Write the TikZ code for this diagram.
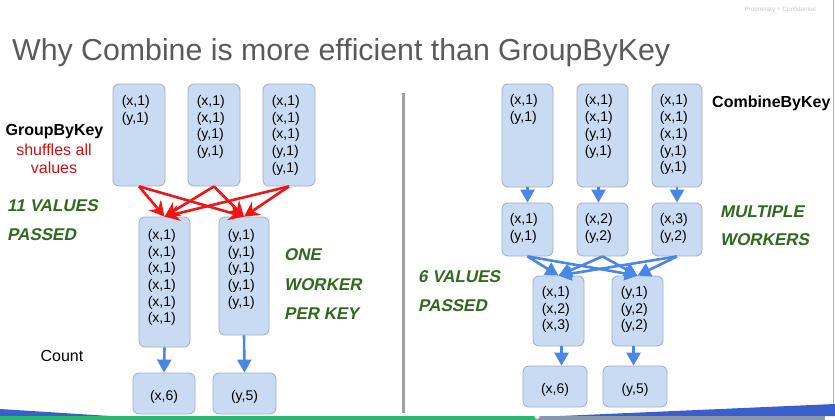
\documentclass[tikz,border=0pt]{standalone}
\usepackage{fontspec}
\setmainfont{Liberation Sans}
\newfontfamily\handfont[FakeSlant=0.2]{Liberation Sans Bold}
\usetikzlibrary{arrows.meta}

\definecolor{boxfill}{HTML}{C9DAF3}
\definecolor{boxline}{HTML}{A3ADBA}
\definecolor{flowblue}{HTML}{4A86E8}
\definecolor{flowred}{HTML}{F01414}
\definecolor{notegreen}{HTML}{2F6A1C}
\definecolor{titlegray}{HTML}{5A5A5A}
\definecolor{rulegray}{HTML}{A0A0A0}
\definecolor{barblue}{HTML}{3A5FCD}
\definecolor{bargreen}{HTML}{2BB673}
\definecolor{bargray}{HTML}{8797AC}

\tikzset{
  cell/.style={draw=boxline, fill=boxfill, line width=0.8pt, rounded corners=6pt, inner sep=0pt},
  vals/.style={anchor=north west, inner sep=0pt, align=left, font=\fontsize{14}{16.7}\selectfont},
  single/.style={inner sep=0pt, font=\fontsize{14}{16.7}\selectfont},
  blueflow/.style={draw=flowblue, line width=2.6pt, -{Triangle[width=14pt 0,length=13pt 0]}},
  redflow/.style={draw=flowred, line width=2.6pt, -{Stealth[width=16pt 0,length=15pt 0,inset=5pt 0]}},
  note/.style={anchor=west, inner sep=0pt, text=notegreen, font=\handfont\fontsize{17}{17}\selectfont},
  heading/.style={anchor=west, inner sep=0pt, font=\bfseries\fontsize{16}{18}\selectfont},
}

\begin{document}
\begin{tikzpicture}[x=1pt, y=-1pt]
\useasboundingbox (0,0) rectangle (835,420);
\fill[white] (0,0) rectangle (835,420);

% header
\node[anchor=north east, inner sep=0pt, text=black!22, font=\fontsize{6.3}{7}\selectfont] (conf) at (816,7) {Proprietary + Confidential};
\node[anchor=base west, inner sep=0pt, text=titlegray, font=\fontsize{30.3}{34}\selectfont] (title) at (12,60) {Why Combine is more efficient than GroupByKey};

% frame lines
\draw[rulegray, line width=3pt] (403,93) -- (403,413);
\draw[black!30, line width=1pt] (833,0) -- (833,405);

% ---------------- GroupByKey ----------------
\node[cell, minimum width=52pt, minimum height=102pt] (a1) at (139,135) {};
\node[cell, minimum width=52pt, minimum height=102pt] (a2) at (214,135) {};
\node[cell, minimum width=52pt, minimum height=102pt] (a3) at (289,135) {};
\node[vals] (a1t) at ([xshift=9pt,yshift=-11.5pt]a1.north west) {(x,1)\\(y,1)};
\node[vals] (a2t) at ([xshift=9pt,yshift=-11.5pt]a2.north west) {(x,1)\\(x,1)\\(y,1)\\(y,1)};
\node[vals] (a3t) at ([xshift=9pt,yshift=-11.5pt]a3.north west) {(x,1)\\(x,1)\\(x,1)\\(y,1)\\(y,1)};

\node[cell, minimum width=51pt, minimum height=130pt] (c1) at (164.5,282) {};
\node[cell, minimum width=50pt, minimum height=118pt] (c2) at (244,276) {};
\node[vals] (c1t) at ([xshift=9pt,yshift=-12.5pt]c1.north west) {(x,1)\\(x,1)\\(x,1)\\(x,1)\\(x,1)\\(x,1)};
\node[vals] (c2t) at ([xshift=9pt,yshift=-12.5pt]c2.north west) {(y,1)\\(y,1)\\(y,1)\\(y,1)\\(y,1)};

\node[cell, minimum width=62pt, minimum height=41pt] (e1) at (164,393.5) {};
\node[cell, minimum width=63pt, minimum height=41pt] (e2) at (244.5,393.5) {};
\node[single] (e1t) at ([yshift=-3.5pt]e1.center) {(x,6)};
\node[single] (e2t) at ([yshift=-3.5pt]e2.center) {(y,5)};

\foreach \s in {a1,a2,a3}{
  \draw[redflow] (\s.south) -- (c1.north);
  \draw[redflow] (\s.south) -- (c2.north);
}
\draw[blueflow] (c1.south) -- (e1.north);
\draw[blueflow] (c2.south) -- (e2.north);

\node[heading, anchor=center] (gbk) at (54.5,132) {GroupByKey};
\node[inner sep=0pt, text=flowred!85!black, font=\fontsize{16}{18}\selectfont] (shuf) at (54,150) {shuffles all};
\node[inner sep=0pt, text=flowred!85!black, font=\fontsize{16}{18}\selectfont] (shufv) at (54,168) {values};
\node[inner sep=0pt, font=\fontsize{16}{18}\selectfont] (count) at (62,356) {Count};

\node[note] (n11a) at (7,206) {11 VALUES};
\node[note] (n11b) at (7,235) {PASSED};
\node[note] (one1) at (284,255) {ONE};
\node[note] (one2) at (284,285) {WORKER};
\node[note] (one3) at (284,314) {PER KEY};

% ---------------- CombineByKey ----------------
\node[cell, minimum width=51pt, minimum height=103pt] (b1) at (527.5,135.5) {};
\node[cell, minimum width=51pt, minimum height=103pt] (b2) at (602.5,135.5) {};
\node[cell, minimum width=50pt, minimum height=103pt] (b3) at (677,135.5) {};
\node[vals] (b1t) at ([xshift=8pt,yshift=-11pt]b1.north west) {(x,1)\\(y,1)};
\node[vals] (b2t) at ([xshift=8pt,yshift=-11pt]b2.north west) {(x,1)\\(x,1)\\(y,1)\\(y,1)};
\node[vals] (b3t) at ([xshift=8pt,yshift=-11pt]b3.north west) {(x,1)\\(x,1)\\(x,1)\\(y,1)\\(y,1)};

\node[cell, minimum width=51pt, minimum height=53pt] (m1) at (527.5,229.5) {};
\node[cell, minimum width=51pt, minimum height=53pt] (m2) at (602.5,229.5) {};
\node[cell, minimum width=50pt, minimum height=53pt] (m3) at (677,229.5) {};
\node[vals] (m1t) at ([xshift=8pt,yshift=-10.5pt]m1.north west) {(x,1)\\(y,1)};
\node[vals] (m2t) at ([xshift=8pt,yshift=-10.5pt]m2.north west) {(x,2)\\(y,2)};
\node[vals] (m3t) at ([xshift=8pt,yshift=-10.5pt]m3.north west) {(x,3)\\(y,2)};

\node[cell, minimum width=51pt, minimum height=70pt] (d1) at (558.5,311) {};
\node[cell, minimum width=51pt, minimum height=70pt] (d2) at (637.5,311) {};
\node[vals] (d1t) at ([xshift=9pt,yshift=-10.5pt]d1.north west) {(x,1)\\(x,2)\\(x,3)};
\node[vals] (d2t) at ([xshift=9pt,yshift=-10.5pt]d2.north west) {(y,1)\\(y,2)\\(y,2)};

\node[cell, minimum width=64pt, minimum height=41pt] (f1) at (555,386.5) {};
\node[cell, minimum width=64pt, minimum height=41pt] (f2) at (635,386.5) {};
\node[single] (f1t) at ([yshift=-3.5pt]f1.center) {(x,6)};
\node[single] (f2t) at ([yshift=-3.5pt]f2.center) {(y,5)};

\draw[blueflow] (b1.south) -- (m1.north);
\draw[blueflow] ([xshift=-4pt]b2.south) -- ([xshift=-4pt]m2.north);
\draw[blueflow] (b3.south) -- (m3.north);
\foreach \s in {m1,m2,m3}{
  \draw[blueflow] (\s.south) -- (d1.north);
  \draw[blueflow] (\s.south) -- (d2.north);
}
\draw[blueflow] ([xshift=3pt]d1.south) -- ([xshift=3pt]d1.south |- f1.north);
\draw[blueflow] ([xshift=-4pt]d2.south) -- ([xshift=-4pt]d2.south |- f2.north);

\node[heading] (cbk) at (712,103) {CombineByKey};
\node[note] (mw1) at (720,212) {MULTIPLE};
\node[note] (mw2) at (720,240) {WORKERS};
\node[note] (n6a) at (418,277) {6 VALUES};
\node[note] (n6b) at (418,306) {PASSED};

% player strip along the bottom edge
\fill[barblue] (0,409) -- (110,416) -- (0,416) -- cycle;
\fill[barblue] (560,416) -- (835,404) -- (835,416) -- cycle;
\fill[bargreen] (0,416) rectangle (537,420);
\fill[bargray] (537,416) rectangle (825,420);
\fill[white] (537,416.5) circle (2.5);
\end{tikzpicture}
\end{document}
